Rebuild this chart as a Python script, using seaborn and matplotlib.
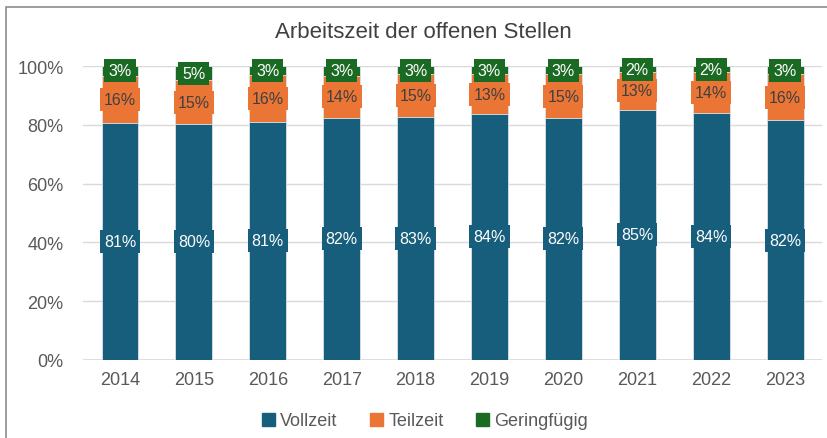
import numpy as np
import pandas as pd
import seaborn as sns
import matplotlib.pyplot as plt
from matplotlib.patches import Rectangle, Patch

years = ["2014", "2015", "2016", "2017", "2018", "2019", "2020", "2021", "2022", "2023"]
vollzeit = [80.8, 80.4, 81.0, 82.4, 82.6, 83.8, 82.4, 85.2, 83.9, 81.6]
teilzeit = [16.0, 14.8, 16.0, 14.4, 14.6, 13.4, 14.8, 12.8, 14.0, 15.6]
geringfuegig = [3.2, 4.8, 3.0, 3.2, 2.8, 2.8, 2.8, 2.0, 2.1, 2.8]

BLUE = "#175E7D"
ORANGE = "#EB7535"
GREEN = "#1B6A23"
GREY = "#595959"

df = pd.DataFrame({"Jahr": years, "Vollzeit": vollzeit,
                   "Teilzeit": teilzeit, "Geringfügig": geringfuegig})
df["cum_t"] = df["Vollzeit"] + df["Teilzeit"]
df["cum_g"] = df["cum_t"] + df["Geringfügig"]

sns.set_style("white")
plt.rcParams["font.family"] = ["Liberation Sans", "DejaVu Sans"]

fig = plt.figure(figsize=(8.27, 4.39), dpi=100)
ax = fig.add_axes([0.1004, 0.1777, 0.8936, 0.6693])

# stacked bars: draw cumulative totals from top down
sns.barplot(data=df, x="Jahr", y="cum_g", color=GREEN, width=0.5, ax=ax,
            saturation=1, edgecolor="#dfe6ea", linewidth=0.6, zorder=2)
sns.barplot(data=df, x="Jahr", y="cum_t", color=ORANGE, width=0.5, ax=ax,
            saturation=1, edgecolor="#dfe6ea", linewidth=0.6, zorder=2)
sns.barplot(data=df, x="Jahr", y="Vollzeit", color=BLUE, width=0.5, ax=ax,
            saturation=1, edgecolor="#dfe6ea", linewidth=0.6, zorder=2)

ax.set_ylim(0, 100)
ax.set_xlim(-0.5, len(years) - 0.5)
ax.set_yticks(np.arange(0, 101, 20))
ax.set_yticklabels([f"{v}%" for v in range(0, 101, 20)])
ax.yaxis.grid(True, color="#D9D9D9", linewidth=1)
ax.set_axisbelow(True)
for s in ax.spines.values():
    s.set_visible(False)
ax.axhline(0, color="#D9D9D9", linewidth=1.2, zorder=1)
ax.tick_params(axis="both", length=0, labelsize=13, labelcolor=GREY, pad=8)
ax.tick_params(axis="y", pad=14)
ax.set_xlabel("")
ax.set_ylabel("")

# data labels
for i in range(len(years)):
    v, t, g = vollzeit[i], teilzeit[i], geringfuegig[i]
    segs = [(v / 2, v, BLUE, "white"),
            (v + t / 2, t, ORANGE, "#404040"),
            (v + t + g / 2, g, GREEN, "white")]
    for y, val, bg, fc in segs:
        ax.text(i, y, f"{round(val):d}%", ha="center", va="center",
                fontsize=11.5, color=fc, zorder=5, clip_on=False,
                bbox=dict(boxstyle="square,pad=0.25", fc=bg, ec="none"))

fig.text(423 / 827, 1 - 33 / 439, "Arbeitszeit der offenen Stellen",
         ha="center", va="center", fontsize=16, color="#404040")

handles = [Patch(color=BLUE, label="Vollzeit"),
           Patch(color=ORANGE, label="Teilzeit"),
           Patch(color=GREEN, label="Geringfügig")]
fig.legend(handles=handles, loc="center", bbox_to_anchor=(425 / 827, 1 - 422 / 439),
           ncol=3, frameon=False, fontsize=13, labelcolor=GREY,
           handlelength=0.7, handleheight=0.7, handletextpad=0.3, columnspacing=1.8)

# chart frame
fig.patches.append(Rectangle((6 / 827, -0.05), 1.1, 1 - 8 / 439 + 0.05,
                             transform=fig.transFigure, fill=False,
                             ec="#8c8c8c", lw=1.2))

fig.savefig("out.png", dpi=100)
